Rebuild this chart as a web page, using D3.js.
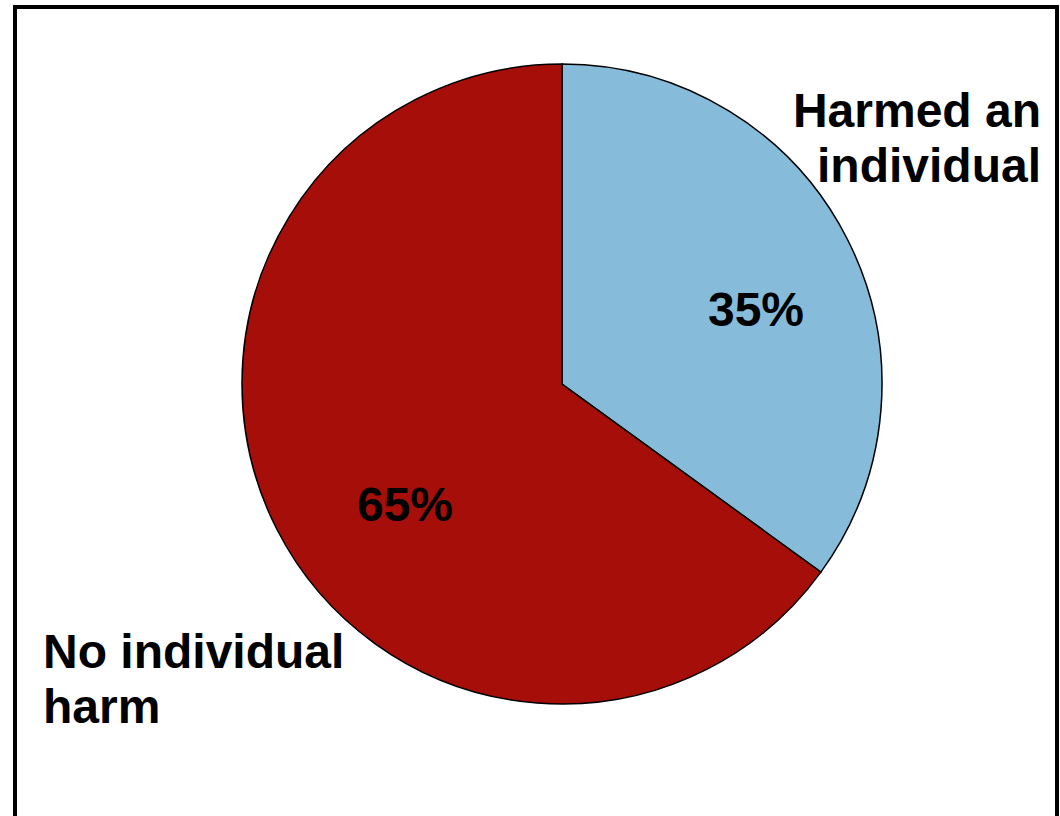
<!DOCTYPE html>
<html>
<head>
<meta charset="utf-8">
<script src="https://cdn.jsdelivr.net/npm/d3@7"></script>
<style>
  html, body { margin: 0; padding: 0; background: #fff; }
  svg { display: block; }
  text { font-family: "Liberation Sans", Arial, sans-serif; font-weight: bold; fill: #000; }
</style>
</head>
<body>
<svg id="chart" width="1060" height="816"></svg>
<script>
// Share of cases by outcome
const categories = ["Harmed an individual", "No individual harm"];
const values = [35, 65];
const colors = ["#86BCDA", "#A60E0A"];
// Outside labels, one array of lines per category
const nameLines = [["Harmed an", "individual"], ["No individual", "harm"]];

const W = 1060, H = 816;
const cx = 562, cy = 384, R = 320;

const svg = d3.select("#chart");

// Frame
svg.append("rect")
  .attr("x", 15).attr("y", 7)
  .attr("width", 1042).attr("height", 840)
  .attr("fill", "#fff")
  .attr("stroke", "#000")
  .attr("stroke-width", 4);

const pie = d3.pie().sort(null).value(d => d)(values);
const arc = d3.arc().innerRadius(0).outerRadius(R);

const g = svg.append("g").attr("transform", `translate(${cx},${cy})`);

g.selectAll("path.slice")
  .data(pie)
  .join("path")
  .attr("class", "slice")
  .attr("d", arc)
  .attr("fill", (d, i) => colors[i])
  .attr("stroke", "#000")
  .attr("stroke-width", 1.5);

// Percentage labels inside each slice
const pctPos = [[194, -58], [-157, 137]];
g.selectAll("text.pct")
  .data(pie)
  .join("text")
  .attr("class", "pct")
  .attr("x", (d, i) => pctPos[i][0])
  .attr("y", (d, i) => pctPos[i][1])
  .attr("text-anchor", "middle")
  .attr("font-size", 48)
  .text(d => d.data + "%");

// Category names outside the pie
const namePos = [
  { x: 1041, y: 127, anchor: "end" },
  { x: 43, y: 668, anchor: "start" }
];
nameLines.forEach((lines, i) => {
  const t = svg.append("text")
    .attr("x", namePos[i].x)
    .attr("y", namePos[i].y)
    .attr("text-anchor", namePos[i].anchor)
    .attr("font-size", 48);
  lines.forEach((ln, j) => {
    t.append("tspan")
      .attr("x", namePos[i].x)
      .attr("dy", j === 0 ? 0 : 55)
      .text(ln);
  });
});
</script>
</body>
</html>
